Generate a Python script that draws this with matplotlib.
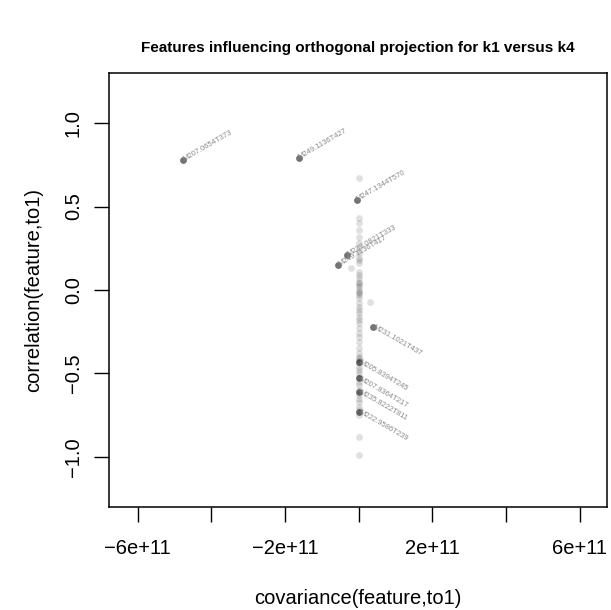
import matplotlib
matplotlib.use("Agg")
import matplotlib.pyplot as plt
import numpy as np

plt.rcParams['font.family'] = ['Liberation Sans', 'DejaVu Sans']

title = "Features influencing orthogonal projection for k1 versus k4"
xlabel = "covariance(feature,to1)"
ylabel = "correlation(feature,to1)"

# labelled features
lab_names = ["M207.0654T373", "M249.1136T427", "M247.1344T570", "M233.0821T333",
             "M249.1136T417", "M231.1021T437", "M205.8394T245", "M207.8364T217",
             "M235.8222T811", "M222.9586T239"]
lab_cov = [-4.76e11, -1.62e11, -0.06e11, -0.31e11, -0.55e11, 0.40e11, 0.0, 0.0, 0.0, 0.0]
lab_cor = [0.78, 0.79, 0.54, 0.21, 0.15, -0.22, -0.43, -0.53, -0.61, -0.73]

# other (unlabelled) features
oth_cor = [0.67, 0.43, 0.40, 0.36, 0.32, 0.28, 0.25, 0.22, 0.19, 0.18, 0.16, 0.13, 0.11,
           0.09, 0.07, 0.05, 0.04, 0.03, 0.02, 0.0, -0.01, -0.02, -0.03, -0.05, -0.07, -0.08,
           -0.10, -0.12, -0.14, -0.16, -0.18, -0.20, -0.23, -0.26, -0.28, -0.31, -0.35,
           -0.38, -0.40, -0.41, -0.42, -0.44, -0.46, -0.48, -0.50, -0.52, -0.55, -0.57,
           -0.60, -0.63, -0.65, -0.67, -0.70, -0.72, -0.75, -0.88, -0.99]
oth_cov = [0.0] * len(oth_cor)
oth_cov[11] = -0.2e11
oth_cov[24] = 0.3e11

xticks = [-6e11, -4e11, -2e11, 0, 2e11, 4e11, 6e11]
xticklabels = ["\u22126e+11", "", "\u22122e+11", "", "2e+11", "", "6e+11"]
yticks = [-1.0, -0.5, 0.0, 0.5, 1.0]
yticklabels = ["\u22121.0", "\u22120.5", "0.0", "0.5", "1.0"]

W, H = 611, 610
fig = plt.figure(figsize=(W/100, H/100), dpi=100)
ax = fig.add_axes([109/W, 1-507/H, (607-109)/W, (507-73)/H])

ax.scatter(oth_cov, oth_cor, s=24, color='black', alpha=0.12, linewidths=0)
ax.scatter(lab_cov, lab_cor, s=24, color='black', alpha=0.55, linewidths=0)
for n, x, y in zip(lab_names, lab_cov, lab_cor):
    rot = 30 if y > 0 else -30
    ax.text(x, y, n, fontsize=5.5, color='#8a8a8a', rotation=rot,
            rotation_mode='anchor', ha='left', va='center')

ax.set_xlim(-6.78e11, 6.74e11)
ax.set_ylim(-1.3, 1.3)
ax.set_xticks(xticks)
ax.set_xticklabels(xticklabels, fontsize=14.5)
ax.set_yticks(yticks)
ax.set_yticklabels(yticklabels, fontsize=14.5, rotation=90, va='center')
ax.tick_params(direction='out', length=10.8, width=1)
ax.tick_params(axis='x', pad=12)
ax.tick_params(axis='y', pad=8)
for sp in ax.spines.values():
    sp.set_linewidth(1.1)
fig.text(358/W, 1-599/H, xlabel, ha='center', va='center', fontsize=14.5)
fig.text(34/W, 1-290/H, ylabel, ha='center', va='center', fontsize=14.5, rotation=90)
fig.text(358/W, 1-48/H, title, ha='center', va='center', fontsize=11, fontweight='bold')

fig.savefig("out.png", dpi=100)
